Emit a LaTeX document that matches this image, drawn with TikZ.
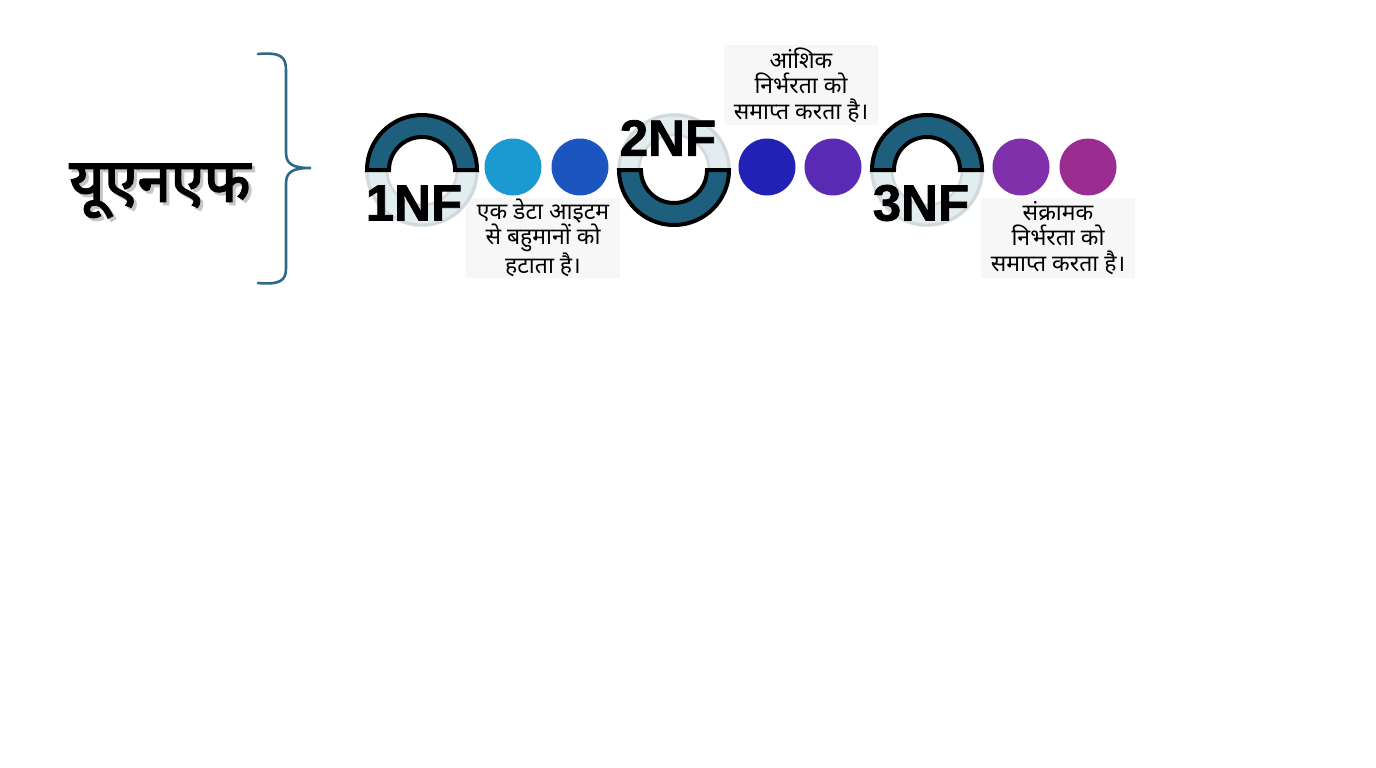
\documentclass[tikz,border=0pt]{standalone}
\usepackage{fontspec}
\setmainfont{Liberation Sans}
\newfontfamily\deva[Script=Devanagari]{Noto Sans}
\newfontfamily\devab[Script=Devanagari,FakeBold=3]{Noto Sans}
\newfontfamily\heavy[FakeBold=1.6]{Liberation Sans Bold}
\definecolor{teal1}{HTML}{1E5F7D}
\definecolor{brc}{HTML}{2C6A87}
\definecolor{lite}{HTML}{E2EDF0}
\definecolor{ringgray}{HTML}{D3D9DB}
\definecolor{boxbg}{HTML}{F7F7F7}
\definecolor{c1}{HTML}{1A9AD0}
\definecolor{c2}{HTML}{1D55C0}
\definecolor{c3}{HTML}{2121B5}
\definecolor{c4}{HTML}{5A2AB5}
\definecolor{c5}{HTML}{8030AA}
\definecolor{c6}{HTML}{9B2D90}
\tikzset{
  dot/.style={circle,minimum size=57pt,inner sep=0pt},
  infobox/.style={fill=boxbg,minimum width=154pt,minimum height=80pt,inner sep=0pt,align=center,font=\deva\fontsize{23}{25.5}\selectfont},
  nflabel/.style={font=\heavy\fontsize{51}{51}\selectfont,inner sep=0pt},
  tealhalf/.style={fill=teal1,draw=black,line width=4pt},
}
\begin{document}
\begin{tikzpicture}[x=1pt,y=-1pt]
\useasboundingbox[fill=white] (0,0) rectangle (1376,768);
% title
\node[text=gray!45,font=\devab\fontsize{60}{60}\selectfont] at (163,194) {यूएनएफ};
\node (title) [font=\devab\fontsize{60}{60}\selectfont] at (160,191) {यूएनएफ};
% brace
\coordinate (btop) at (258,54);
\coordinate (btip) at (311,168);
\coordinate (bbot) at (258,283);
\draw[brc,line width=2.6pt,line cap=round] (btop) .. controls (281,52) and (286,57) .. (286,70) -- (286,152) .. controls (286,164) and (292,168) .. (btip) .. controls (292,168) and (286,172) .. (286,184) -- (286,268) .. controls (286,280) and (281,285) .. (bbot);
% info boxes
\node (b1) [infobox] at (543,238) {एक डेटा आइटम\\से बहुमानों को\\हटाता है।};
\node (b2) [infobox] at (801,85) {आंशिक\\निर्भरता को\\समाप्त करता है।};
\node (b3) [infobox] at (1058,238) {संक्रामक\\निर्भरता को\\समाप्त करता है।};
% dots
\node (d1) [dot,fill=c1] at (513,167) {};
\node (d2) [dot,fill=c2] at (580,167) {};
\node (d3) [dot,fill=c3] at (767,167) {};
\node (d4) [dot,fill=c4] at (833,167) {};
\node (d5) [dot,fill=c5] at (1021,167) {};
\node (d6) [dot,fill=c6] at (1088,167) {};
% rings
\coordinate (r1) at (422,170);
\coordinate (r2) at (674,170);
\coordinate (r3) at (927,170);
\foreach \r in {r1,r2,r3}{
  \begin{scope}[shift={(\r)}]
    \fill[lite] (0,0) circle (57);
    \draw[ringgray,line width=3pt] (0,0) circle (55);
    \fill[white] (0,0) circle (34);
    \draw[ringgray,line width=2.5pt] (0,0) circle (35);
  \end{scope}
}
\begin{scope}[shift={(r1)}]
  \draw[tealhalf] (-55,0) arc[start angle=180,end angle=360,radius=55] -- (33,0) arc[start angle=0,end angle=-180,radius=33] -- cycle;
\end{scope}
\begin{scope}[shift={(r2)}]
  \draw[tealhalf] (-55,0) arc[start angle=180,end angle=0,radius=55] -- (33,0) arc[start angle=0,end angle=180,radius=33] -- cycle;
\end{scope}
\begin{scope}[shift={(r3)}]
  \draw[tealhalf] (-55,0) arc[start angle=180,end angle=360,radius=55] -- (33,0) arc[start angle=0,end angle=-180,radius=33] -- cycle;
\end{scope}
% labels
\node (n1) [nflabel] at (414,203) {1NF};
\node (n2) [nflabel] at (668,138) {2NF};
\node (n3) [nflabel] at (921,203) {3NF};
\end{tikzpicture}
\end{document}
